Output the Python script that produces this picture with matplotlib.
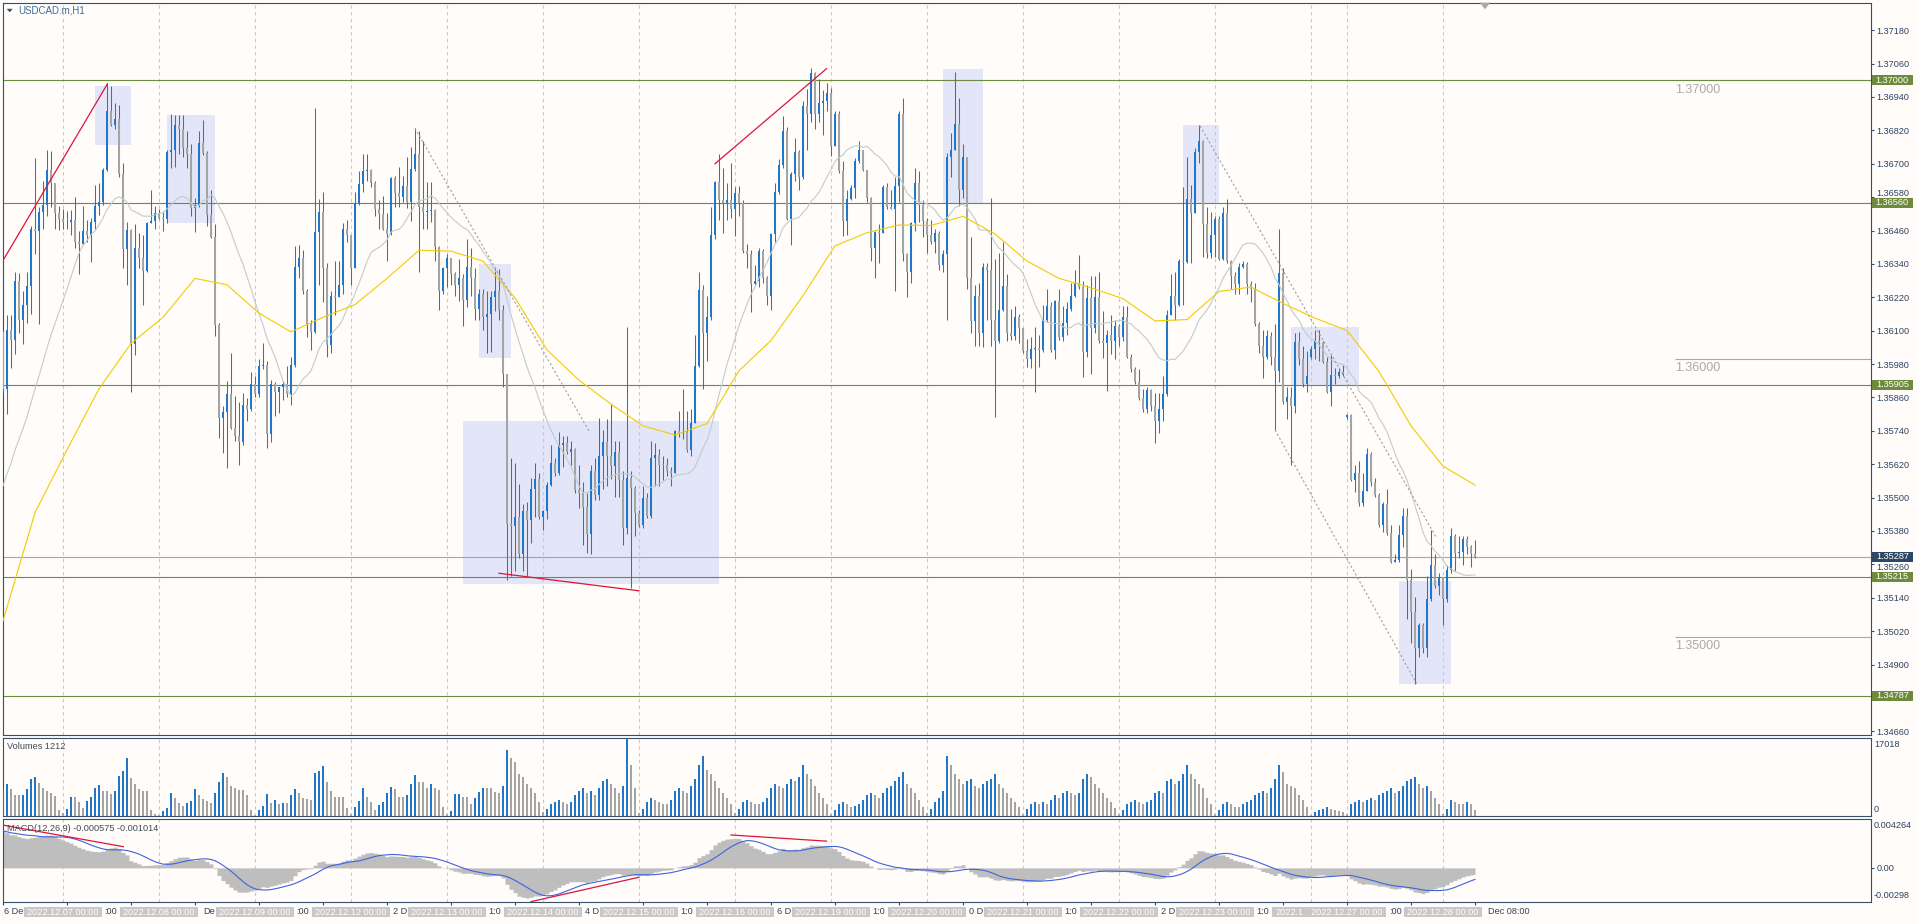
import numpy as np
import pandas as pd
import matplotlib
matplotlib.use("Agg")
import matplotlib.pyplot as plt
import matplotlib.transforms as mtransforms
from matplotlib.patches import Rectangle, Polygon
from matplotlib.font_manager import FontProperties

W, H, DPI = 1917, 924, 100

BG = "#FFFCFA"
FRAME = "#34506C"
TXT = "#2A4563"
BULL = "#2176C7"
BEAR = "#A4A4A4"
WICK = "#5E6A72"
LEVEL = "#6E8B3D"
FAMILY = ["Liberation Sans", "DejaVu Sans"]

plt.rcParams["font.family"] = FAMILY

# hourly bars (server time): day, first hour, number of bars
sessions = [("2022-12-06", 9, 15), ("2022-12-07", 0, 24), ("2022-12-08", 0, 24),
            ("2022-12-09", 0, 24), ("2022-12-12", 0, 24), ("2022-12-13", 0, 24),
            ("2022-12-14", 0, 24), ("2022-12-15", 0, 24), ("2022-12-16", 0, 24),
            ("2022-12-19", 0, 24), ("2022-12-20", 0, 24), ("2022-12-21", 0, 24),
            ("2022-12-22", 0, 24), ("2022-12-23", 0, 24), ("2022-12-26", 15, 9),
            ("2022-12-27", 0, 24), ("2022-12-28", 0, 9)]

# prices in points (1e-5)
# closes of the 19 bars before the visible window (only feed the 20-bar average)
pre_close = [135250, 135300, 135330, 135380, 135400, 135420, 135450, 135470,
             135560, 135600, 135640, 135700, 135690, 135660, 135680, 135680,
             135600, 135560, 135590]
first_open = 136096
gap_open = {327: 136007, 336: 135789}

close = [
    135891, 136101, 136065, 136277, 136137, 136191, 136260, 136464, 136459, 136526,
    136553, 136676, 136631, 136522, 136501, 136489, 136489, 136498, 136420, 136413,
    136459, 136444, 136491, 136548, 136564, 136678, 136888, 136838, 136861, 136662,
    136394, 136463, 136051, 136397, 136361, 136316, 136486, 136495, 136522, 136506,
    136501, 136743, 136751, 136841, 136826, 136756, 136735, 136542, 136550, 136774,
    136740, 136517, 136436, 136121, 135785, 135808, 135872, 135750, 135722, 135700,
    135833, 135820, 135909, 135872, 135972, 135976, 135727, 135909, 135878, 135898,
    135909, 135872, 135975, 136330, 136361, 136241, 136124, 136096, 136455, 136525,
    136327, 136050, 136226, 136221, 136265, 136464, 136444, 136327, 136558, 136626,
    136673, 136676, 136631, 136537, 136519, 136467, 136447, 136650, 136595, 136579,
    136620, 136561, 136682, 136735, 136545, 136526, 136530, 136533, 136402, 136241,
    136327, 136361, 136304, 136265, 136291, 136210, 136330, 136288, 136179, 136233,
    136148, 136159, 136221, 136241, 136174, 135945, 135404, 135398, 135431, 135298,
    135451, 135420, 135532, 135566, 135431, 135451, 135545, 135626, 135587, 135688,
    135696, 135665, 135675, 135529, 135516, 135467, 135368, 135594, 135509, 135649,
    135700, 135649, 135613, 135665, 135563, 135392, 135571, 135535, 135446, 135400,
    135498, 135435, 135644, 135654, 135618, 135618, 135594, 135587, 135738, 135732,
    135735, 135672, 135769, 135972, 136246, 136090, 136148, 136444, 136634, 136568,
    136558, 136568, 136537, 136595, 136558, 136386, 136377, 136268, 136280, 136386,
    136288, 136226, 136448, 136600, 136696, 136818, 136501, 136662, 136743, 136651,
    136907, 136880, 137028, 136880, 136919, 136927, 136953, 136763, 136880, 136673,
    136495, 136573, 136612, 136709, 136748, 136678, 136576, 136397, 136455, 136452,
    136615, 136545, 136537, 136620, 136880, 136374, 136311, 136486, 136631, 136553,
    136495, 136444, 136420, 136452, 136335, 136377, 136724, 136751, 136844, 136604,
    136724, 136288, 136135, 136226, 136093, 136330, 136319, 136140, 136062, 136174,
    136261, 136093, 136081, 136148, 136109, 136028, 136000, 136034, 136039, 136031,
    136140, 136190, 136031, 136205, 136078, 136127, 136179, 136226, 136272, 136257,
    136023, 136218, 136109, 136221, 136062, 136054, 136085, 136062, 136117, 136078,
    136148, 136007, 135961, 135914, 135859, 135820, 135887, 135828, 135774, 135820,
    135872, 136155, 136226, 136194, 136350, 136346, 136573, 136522, 136743, 136782,
    136483, 136381, 136444, 136501, 136358, 136522, 136350, 136296, 136268, 136330,
    136339, 136268, 136249, 136124, 136046, 136007, 136081, 136007, 135956, 136308,
    135844, 135862, 135831, 136059, 136000, 135909, 135937, 136034, 136062, 136054,
    135987, 135878, 135940, 135937, 135950, 135945, 135797, 135563, 135587, 135482,
    135524, 135657, 135555, 135509, 135400, 135478, 135373, 135270, 135275, 135364,
    135435, 135205, 135088, 134959, 135041, 134959, 135135, 135259, 135181, 135213,
    135135, 135239, 135361, 135301, 135306, 135353, 135322, 135298, 135287]

high = [
    136101, 136155, 136155, 136311, 136308, 136241, 136311, 136475, 136720, 136545,
    136639, 136748, 136745, 136631, 136548, 136537, 136530, 136533, 136579, 136459,
    136548, 136498, 136506, 136623, 136631, 136685, 136989, 136981, 136919, 136911,
    136701, 136491, 136467, 136483, 136452, 136444, 136491, 136607, 136548, 136537,
    136530, 136748, 136880, 136876, 136877, 136877, 136818, 136771, 136576, 136818,
    136857, 136745, 136607, 136483, 136127, 135828, 135919, 136018, 135867, 135844,
    135875, 135859, 135950, 135937, 136000, 136054, 135992, 135922, 135914, 135898,
    135919, 135972, 136007, 136405, 136408, 136389, 136249, 136140, 136900, 136572,
    136600, 136342, 136241, 136350, 136350, 136486, 136498, 136405, 136600, 136673,
    136735, 136735, 136682, 136639, 136568, 136584, 136522, 136654, 136657, 136688,
    136657, 136724, 136760, 136829, 136818, 136782, 136636, 136636, 136537, 136405,
    136330, 136374, 136358, 136311, 136358, 136304, 136428, 136397, 136327, 136249,
    136249, 136241, 136241, 136327, 136320, 136194, 135945, 135644, 135626, 135548,
    135478, 135485, 135571, 135626, 135587, 135454, 135555, 135688, 135644, 135735,
    135722, 135722, 135704, 135680, 135618, 135555, 135516, 135618, 135641, 135785,
    135742, 135781, 135836, 135704, 135704, 135594, 136112, 135594, 135540, 135454,
    135540, 135516, 135704, 135696, 135675, 135649, 135641, 135610, 135742, 135813,
    135891, 135813, 135820, 136085, 136311, 136265, 136226, 136545, 136639, 136735,
    136685, 136631, 136704, 136615, 136620, 136568, 136413, 136389, 136335, 136397,
    136392, 136296, 136452, 136631, 136717, 136872, 136833, 136670, 136794, 136748,
    136927, 136969, 137044, 137031, 137005, 136966, 136989, 136974, 136891, 136888,
    136709, 136607, 136623, 136720, 136782, 136751, 136678, 136579, 136459, 136483,
    136623, 136631, 136607, 136654, 136891, 136935, 136381, 136491, 136685, 136673,
    136568, 136506, 136498, 136467, 136459, 136389, 136740, 136810, 137031, 136935,
    136771, 136720, 136436, 136265, 136272, 136342, 136342, 136576, 136358, 136381,
    136417, 136304, 136179, 136190, 136159, 136078, 136070, 136078, 136112, 136085,
    136194, 136249, 136202, 136210, 136249, 136187, 136202, 136272, 136319, 136371,
    136280, 136265, 136296, 136296, 136311, 136171, 136101, 136155, 136140, 136124,
    136187, 136187, 136015, 135968, 135961, 135891, 135898, 135891, 135875, 135875,
    135937, 136174, 136304, 136311, 136358, 136615, 136724, 136623, 136756, 136838,
    136787, 136545, 136526, 136514, 136511, 136545, 136573, 136355, 136311, 136342,
    136350, 136346, 136280, 136272, 136132, 136101, 136101, 136096, 136124, 136464,
    136327, 135898, 135898, 136090, 136096, 136046, 136028, 136046, 136101, 136101,
    136062, 136007, 136012, 135965, 135965, 135976, 135800, 135800, 135618, 135633,
    135587, 135680, 135665, 135571, 135516, 135485, 135532, 135400, 135298, 135400,
    135462, 135462, 135244, 135142, 135049, 135049, 135220, 135384, 135298, 135228,
    135158, 135259, 135392, 135368, 135361, 135361, 135361, 135330, 135348]

low = [
    135875, 135800, 135965, 136015, 136090, 136053, 136127, 136159, 136374, 136124,
    136467, 136514, 136545, 136467, 136463, 136467, 136464, 136444, 136397, 136304,
    136408, 136420, 136347, 136467, 136517, 136553, 136673, 136837, 136826, 136651,
    136327, 136265, 135878, 136012, 136327, 136194, 136311, 136486, 136464, 136501,
    136459, 136486, 136685, 136688, 136735, 136724, 136685, 136514, 136455, 136545,
    136732, 136475, 136433, 136081, 135716, 135660, 135607, 135747, 135704, 135618,
    135688, 135774, 135813, 135862, 135862, 135961, 135680, 135700, 135794, 135805,
    135852, 135862, 135833, 135968, 136288, 136233, 136078, 136031, 136090, 136265,
    136202, 136007, 136018, 136155, 136226, 136233, 136420, 136265, 136405, 136553,
    136600, 136639, 136615, 136514, 136467, 136463, 136350, 136444, 136545, 136545,
    136564, 136542, 136495, 136673, 136311, 136467, 136467, 136491, 136350, 136174,
    136233, 136257, 136265, 136226, 136205, 136117, 136184, 136226, 136140, 136140,
    136101, 136018, 136023, 136171, 136140, 135898, 135205, 135220, 135236, 135283,
    135236, 135220, 135337, 135431, 135423, 135384, 135423, 135540, 135579, 135582,
    135610, 135657, 135618, 135516, 135462, 135329, 135301, 135298, 135493, 135493,
    135532, 135540, 135566, 135501, 135501, 135329, 135368, 135174, 135361, 135395,
    135392, 135426, 135426, 135540, 135540, 135563, 135579, 135540, 135587, 135719,
    135711, 135665, 135649, 135809, 135968, 135891, 135992, 136140, 136428, 136498,
    136452, 136498, 136506, 136439, 136514, 136381, 136327, 136168, 136265, 136257,
    136272, 136194, 136174, 136420, 136592, 136685, 136498, 136408, 136639, 136607,
    136646, 136751, 136849, 136826, 136849, 136802, 136888, 136729, 136813, 136667,
    136439, 136444, 136568, 136576, 136701, 136673, 136561, 136350, 136288, 136342,
    136452, 136537, 136537, 136241, 136561, 136350, 136221, 136272, 136459, 136491,
    136436, 136381, 136413, 136381, 136319, 136311, 136140, 136654, 136748, 136548,
    136576, 136249, 136093, 136046, 136046, 136043, 136140, 136046, 135789, 136054,
    136171, 136062, 136065, 136065, 136054, 136018, 135968, 135965, 135878, 135968,
    136023, 136132, 136023, 136000, 136065, 136062, 136085, 136171, 136221, 136249,
    135934, 136007, 135945, 136093, 136054, 136003, 135883, 136015, 136000, 136046,
    136062, 136003, 135953, 135909, 135852, 135809, 135805, 135813, 135696, 135732,
    135774, 135867, 136155, 136140, 136187, 136194, 136342, 136342, 136522, 136704,
    136366, 136361, 136361, 136366, 136355, 136355, 136342, 136249, 136233, 136233,
    136327, 136233, 136202, 136117, 136018, 135930, 136000, 135976, 135742, 135914,
    135836, 135781, 135618, 135805, 135976, 135898, 135878, 136000, 136000, 135992,
    135984, 135875, 135831, 135907, 135930, 135937, 135781, 135560, 135520, 135470,
    135470, 135560, 135540, 135501, 135395, 135376, 135364, 135264, 135267, 135267,
    135322, 135065, 134979, 134831, 134927, 134940, 134927, 135127, 135174, 135150,
    135041, 135124, 135228, 135236, 135283, 135259, 135298, 135252, 135283]

volume = [
    5750, 6900, 5750, 4450, 4450, 4600, 5830, 8050, 8440, 7130,
    5980, 5370, 5060, 4300, 1230, 610, 1610, 4070, 4070, 3070,
    1840, 3300, 4070, 6140, 6750, 5370, 5370, 4760, 5370, 8590,
    9660, 12660, 8280, 6980, 5830, 5370, 5370, 1380, 460, 230,
    1000, 1690, 5060, 3840, 2760, 2150, 2760, 3300, 5750, 4450,
    3680, 3300, 2910, 5060, 7360, 9280, 8440, 6600, 6140, 5600,
    5600, 4600, 1230, 230, 1230, 2150, 4830, 2910, 3530, 2530,
    2760, 2760, 4600, 5750, 5060, 3840, 3680, 3530, 9280, 9660,
    10740, 7360, 5370, 4070, 4070, 4070, 1760, 460, 1920, 3220,
    6140, 4070, 3070, 1380, 2300, 3070, 5060, 6370, 5830, 4070,
    4070, 4450, 6900, 8900, 7360, 7360, 6140, 6900, 5980, 5600,
    1990, 460, 1150, 4680, 4830, 4070, 4070, 2530, 3840, 5220,
    6140, 6140, 5980, 5220, 5000, 6500, 14200, 12500, 11800, 9000,
    8500, 7000, 6000, 5000, 3000, 800, 1500, 2500, 3000, 3500,
    3000, 2500, 3000, 4500, 5500, 6000, 5000, 5500, 4500, 6000,
    7500, 8000, 7000, 6000, 5000, 6500, 17018, 11000, 6000, 700,
    1500, 3000, 4000, 3500, 3000, 2500, 2500, 3500, 5500, 6000,
    5500, 5000, 6500, 8000, 11000, 13000, 10000, 9000, 7500, 6000,
    5000, 4000, 2500, 600, 1500, 3000, 3500, 3000, 2500, 2500,
    3000, 4000, 6000, 7000, 6500, 6000, 7000, 8000, 7500, 8500,
    11000, 9000, 8000, 6500, 5000, 4000, 2500, 500, 1200, 2500,
    3000, 2500, 2000, 2200, 2500, 3500, 4500, 5000, 4500, 4000,
    5000, 6000, 6500, 7500, 8500, 9500, 7000, 6000, 5000, 3500,
    2000, 600, 1500, 3000, 4000, 5500, 13000, 11000, 9000, 8000,
    7000, 7500, 8000, 6500, 6000, 7000, 7500, 8000, 9000, 7000,
    6000, 5000, 4000, 3000, 2000, 500, 1500, 2500, 3000, 2500,
    3000, 2500, 3500, 4500, 4000, 5000, 5500, 5000, 4500, 5000,
    8000, 9000, 8500, 7000, 6000, 5000, 4000, 3000, 1800, 500,
    1200, 2500, 3000, 3500, 3000, 2500, 3000, 3500, 5000, 5500,
    5000, 7500, 8000, 7000, 7500, 9000, 11000, 9000, 8000, 7000,
    6000, 4000, 2500, 500, 1200, 2500, 3000, 2500, 2000, 2000,
    2500, 3000, 3500, 4500, 5000, 5500, 5000, 6000, 8000, 11000,
    9500, 7000, 6500, 6000, 4500, 3500, 2000, 300, 800, 1200,
    1500, 2000, 1500, 1200, 1000, 800, 400, 2500, 3000, 3500,
    3000, 3500, 4000, 3500, 4500, 5000, 5500, 6000, 5000, 5500,
    6500, 7500, 8000, 8500, 7000, 6000, 6500, 5500, 4000, 2500,
    500, 1500, 3500, 3000, 2500, 2500, 3000, 2500, 1212]

# slow moving average read every 8 bars (points)
ma_step = 8
ma_slow = [135057, 135446, 135672, 135891, 136054, 136148, 136288, 136265,
           136163, 136096, 136148, 136194, 136288, 136389, 136386, 136350,
           136218, 136031, 135922, 135836, 135758, 135725, 135766, 135956,
           136065, 136226, 136405, 136452, 136480, 136478, 136511, 136448,
           136350, 136288, 136254, 136215, 136135, 136140, 136241, 136257,
           136198, 136145, 136101, 135953, 135758, 135613, 135545]
fast_period = 20

ema_seed = (1.3602, 1.3566)

levels = [1.37000, 1.36560, 1.35905, 1.35215, 1.34787]
round_levels = [1.37, 1.36, 1.35]
last_price = 1.35287

zones = [(23, 32, 1.36767, 1.36980), (41, 53, 1.36487, 1.36875),
         (119, 127, 1.36002, 1.36340), (115, 179, 1.35190, 1.35774),
         (235, 245, 1.36556, 1.37039), (295, 304, 1.36556, 1.36839),
         (322, 339, 1.35903, 1.36114), (349, 362, 1.34829, 1.35201)]
red_lines = [(-0.1, 1.36350, 26.1, 1.36987), (124, 1.35228, 159, 1.35165),
             (178, 1.36700, 205.9, 1.37042)]
dotted_lines = [(103, 1.36828, 146.75, 1.35733), (299.25, 1.36836, 358.4, 1.35355),
                (318, 1.35743, 353.4, 1.34832)]
macd_red = [(-0.1, 0.00374, 30.1, 0.00185), (132, -0.00295, 159, -0.00082),
            (182, 0.00287, 205.9, 0.00233)]

n = len(close)
assert len(high) == n and len(low) == n and len(volume) == n == 369

times = []
for day, h0, cnt in sessions:
    t0 = pd.Timestamp(day) + pd.Timedelta(hours=h0)
    times += [t0 + pd.Timedelta(hours=k) for k in range(cnt)]

c = np.array(close) / 1e5
o = np.r_[first_open, close[:-1]] / 1e5
for k, v in gap_open.items():
    o[k] = v / 1e5
hi = np.maximum.reduce([np.array(high) / 1e5, o, c])
lo = np.minimum.reduce([np.array(low) / 1e5, o, c])
idx = np.arange(n)

allc = pd.Series(np.r_[pre_close, close] / 1e5)
ma_fast = allc.rolling(fast_period).mean().values[len(pre_close):]


def ema(vals, period, seed):
    k = 2.0 / (period + 1)
    out, prev = [], seed
    for v in vals:
        prev = prev + k * (v - prev)
        out.append(prev)
    return np.array(out)


macd = ema(c, 12, ema_seed[0]) - ema(c, 26, ema_seed[1])
signal = pd.Series(macd).rolling(9, min_periods=1).mean().values

# ---- layout (pixels of the 1917x924 canvas)
L, R = 2.7, 1870.7
fig = plt.figure(figsize=(W / DPI, H / DPI), dpi=DPI, facecolor=BG)


def panel(top, bottom):
    a = fig.add_axes([L / W, 1 - bottom / H, (R - L) / W, (bottom - top) / H])
    a.set_facecolor(BG)
    for s in a.spines.values():
        s.set_color(FRAME)
        s.set_linewidth(0.8)
    a.set_xlim(-0.075, (R - 3) / 4)
    return a


ax = panel(2.7, 735)
axv = panel(737.5, 816)
axm = panel(819, 902)
ax.set_ylim(1.346467, 1.372789)
axv.set_ylim(0, 17018)
axm.set_ylim(-0.00298, 0.004264)

day_starts = []
for k in range(1, n):
    if times[k].date() != times[k - 1].date():
        day_starts.append(k)

for a in (ax, axv, axm):
    for s in day_starts:
        a.axvline(s, color="#C9C9C9", lw=0.8, ls=(0, (3, 3)), zorder=1.5)
    a.tick_params(axis="x", bottom=False, labelbottom=False)
    a.tick_params(axis="y", left=False, labelleft=False, right=False, labelright=False)

# zones
for x0, x1, p0, p1 in zones:
    ax.add_patch(Rectangle((x0, p0), x1 - x0, p1 - p0, fc="#E3E5F8", ec="none", zorder=1))

# level lines
xmax = (R - 3) / 4
for p in round_levels:
    ax.hlines(p, 418, xmax, color="#A8A8A8", lw=0.8, zorder=2)
    ax.annotate(f"{p:.5f}", (418, p), xytext=(0, -2.5), textcoords="offset points",
                va="top", ha="left", fontsize=9, color="#AAAAAA", zorder=2)
ax.axhline(last_price, color="#A6A6A6", lw=0.8, zorder=2)
for p in levels:
    ax.axhline(p, color=LEVEL, lw=0.8, zorder=2.2)

# candles
cols = np.where(c > o, BULL, BEAR)
ax.vlines(idx, lo, hi, color=WICK, lw=0.75, zorder=3)
ax.bar(idx, np.maximum(np.abs(c - o), 0.000015), bottom=np.minimum(o, c), width=0.66,
       color=cols, linewidth=0, zorder=4)

xs = np.arange(0, n, ma_step)
ax.plot(idx, ma_fast, color="#BFCDCD", lw=0.8, zorder=5)
ax.plot(xs, np.array(ma_slow) / 1e5, color="#F2CC00", lw=0.8, zorder=5)

for x0, p0, x1, p1 in red_lines:
    ax.plot([x0, x1], [p0, p1], color="#DC143C", lw=0.9, zorder=6)
for x0, p0, x1, p1 in dotted_lines:
    ax.plot([x0, x1], [p0, p1], color="#A0A0A0", lw=0.8, ls=(0, (2, 2)), zorder=6)

# right price scale; a label squeezed by a price box is nudged clear of it
yt = np.round(1.37180 - 0.0012 * np.arange(22), 5)
px_per_unit = ax.transData.transform((0, 1.0))[1] - ax.transData.transform((0, 0.0))[1]
bt = mtransforms.blended_transform_factory(ax.transAxes, ax.transData)
boxed = levels + [last_price]
tick_text = []
for v in yt:
    shift = 0.0
    for b in boxed:
        d = (v - b) * px_per_unit
        if 3 < abs(d) < 9.8:
            shift = np.sign(d) * (9.8 - abs(d))
    if shift:
        tick_text.append("")
        ax.text(1 + 5.2 / (R - L), v, f"{v:.5f}", ha="left", va="center_baseline",
                fontsize=6.6, color=TXT, clip_on=False,
                transform=bt + mtransforms.ScaledTranslation(0, shift / DPI, fig.dpi_scale_trans))
    else:
        tick_text.append(f"{v:.5f}")
ax.yaxis.tick_right()
ax.set_yticks(yt)
ax.set_yticklabels(tick_text)
ax.tick_params(axis="y", right=True, labelright=True, length=2, width=0.8, color=FRAME,
               labelsize=6.6, labelcolor=TXT, pad=2.2)

bx0 = (1872 - L) / (R - L)
bw = 40.7 / (R - L)
bh = 9.6 / 27820
for p, fc in [(v, LEVEL) for v in levels] + [(last_price, "#2D4864")]:
    ax.add_patch(Rectangle((bx0, p - bh / 2), bw, bh, transform=bt, fc=fc, ec="none",
                           clip_on=False, zorder=20))
    ax.text(bx0 + bw / 2, p, f"{p:.5f}", transform=bt, ha="center", va="center",
            fontsize=6.6, color="white", clip_on=False, zorder=21)

# title
ax.text((18.3 - L) / (R - L), 1 - (10.3 - 2.7) / 732.3, "USDCAD.m,H1", transform=ax.transAxes,
        fontsize=7, color="#3E6C9C", va="center", ha="left")
tri = Polygon([(6.7, H - 8.8), (12.7, H - 8.8), (9.7, H - 12.3)], closed=True,
              transform=mtransforms.IdentityTransform(), fc="#34506C", ec="none")
fig.patches.append(tri)
sh = mtransforms.blended_transform_factory(ax.transData, ax.transAxes)
ax.add_patch(Polygon([(n + 0.2, 1.0), (n + 2.8, 1.0), (n + 1.5, 0.991)], closed=True,
                     transform=sh, fc="#A8A8A8", ec="none", clip_on=False, zorder=20))

# volumes
vol = np.array(volume)
vcol = np.where(np.r_[True, vol[1:] > vol[:-1]], BULL, BEAR)
axv.bar(idx, vol, width=0.66, color=vcol, linewidth=0, zorder=3)
xr = (1874 - L) / (R - L)
axv.text(xr, 0.97, "17018", transform=axv.transAxes, va="top", ha="left", fontsize=6.6, color=TXT)
axv.text(xr, 0.02, "0", transform=axv.transAxes, va="bottom", ha="left", fontsize=6.6, color=TXT)
axv.text(0.0023, 0.89, f"Volumes {volume[-1]}", transform=axv.transAxes, va="center",
         ha="left", fontsize=6.6, color="#404A55")

# MACD
axm.fill_between(idx, 0, macd, step="mid", color="#BEBEBE", linewidth=0, zorder=2)
axm.plot(idx, signal, color="#3F63DD", lw=0.8, zorder=3)
for x0, v0, x1, v1 in macd_red:
    axm.plot([x0, x1], [v0, v1], color="#DC143C", lw=0.9, zorder=4)
axm.text(xr, 0.97, "0.004264", transform=axm.transAxes, va="top", ha="left", fontsize=6.6, color=TXT)
axm.text(xr, 0.03, "-0.00298", transform=axm.transAxes, va="bottom", ha="left", fontsize=6.6, color=TXT)
axm.yaxis.tick_right()
axm.set_yticks([0.0])
axm.set_yticklabels(["0.00"])
axm.tick_params(axis="y", right=True, labelright=True, length=2, width=0.8, color=FRAME,
                labelsize=6.6, labelcolor=TXT, pad=2.2)
axm.text(0.0023, 0.89, "MACD(12,26,9) -0.000575 -0.001014", transform=axm.transAxes,
         va="center", ha="left", fontsize=6.6, color="#404A55", zorder=5)

# time axis: tick marks, day stamps, and what the stamps leave visible of each label
ticks = list(range(0, n, 16))
labels = []
for k in ticks:
    t = times[k]
    labels.append(f"{t.day} {t:%b} {t:%Y}" if k == 0 else f"{t.day} {t:%b} {t:%H:%M}")
axm.set_xticks(ticks)
axm.tick_params(axis="x", bottom=True, labelbottom=False, direction="out", length=2.5,
                width=0.8, color=FRAME)

bm = mtransforms.blended_transform_factory(axm.transData, axm.transAxes)
y0b = (902 - 917.2) / 83
hb = 10.4 / 83
for s in day_starts:
    axm.add_patch(Rectangle((s - 9.75, y0b), 19.5, hb, transform=bm, fc="#C8C8C8", ec="none",
                            clip_on=False, zorder=20))

fig.canvas.draw()
renderer = fig.canvas.get_renderer()
fp = FontProperties(family=FAMILY, size=6.6)


def text_w(s):
    if not s:
        return 0.0
    return renderer.get_text_width_height_descent(s, fp, ismath=False)[0]


def visible_runs(lab, x0, covers):
    runs, cur = [], None
    for j in range(len(lab)):
        a, b = x0 + text_w(lab[:j]), x0 + text_w(lab[:j + 1])
        if all(b <= cl or a >= cr for cl, cr in covers):
            cur = [j, j + 1] if cur is None else [cur[0], j + 1]
        elif cur is not None:
            runs.append(cur)
            cur = None
    if cur is not None:
        runs.append(cur)
    out = []
    for j0, j1 in runs:
        frag = lab[j0:j1]
        if frag.strip():
            lead = len(frag) - len(frag.lstrip())
            out.append((x0 + text_w(lab[:j0 + lead]), frag.strip()))
    return out


stamp_px = []
for s in day_starts:
    xc = axm.transData.transform((s, 0))[0]
    stamp_px.append((xc - 39.5, xc + 39.5))

for k, lab in zip(ticks, labels):
    x0 = axm.transData.transform((k, 0))[0] + 0.5
    for xt, frag in visible_runs(lab, x0, stamp_px):
        fig.text(xt / W, 1 - 906.5 / H, frag, ha="left", va="top", fontsize=6.6,
                 color=TXT, family=FAMILY)

for q, s in enumerate(day_starts):
    lab = f"{times[s]:%Y.%m.%d} 00:00"
    xc = (stamp_px[q][0] + stamp_px[q][1]) / 2
    for xt, frag in visible_runs(lab, xc - text_w(lab) / 2, stamp_px[q + 1:]):
        fig.text(xt / W, 1 - 912.2 / H, frag, ha="left", va="center", fontsize=6.6,
                 color="white", family=FAMILY)

fig.savefig("out.png", dpi=DPI, facecolor=BG)
